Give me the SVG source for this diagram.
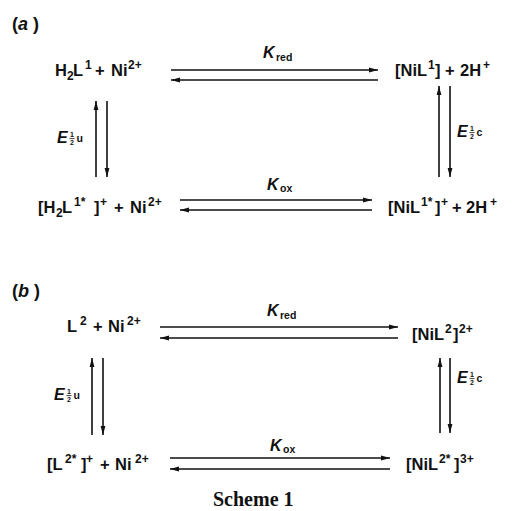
<svg xmlns="http://www.w3.org/2000/svg" width="514" height="511" viewBox="0 0 514 511">
<style>
.f{font-family:"Liberation Sans",Arial,sans-serif;font-size:16.5px;font-weight:bold;fill:#111}
.s{font-size:12px}
.h{font-family:"Liberation Sans",Arial,sans-serif;font-size:18px;font-weight:bold;fill:#111}
.k{font-family:"Liberation Sans",Arial,sans-serif;font-size:16px;font-weight:bold;font-style:italic;fill:#111}
.ks{font-family:"Liberation Sans",Arial,sans-serif;font-size:10.5px;font-weight:bold;fill:#111}
.fr{font-family:"Liberation Sans",Arial,sans-serif;font-size:7px;font-weight:bold;fill:#111}
.ln{stroke:#111;stroke-width:1.6;fill:none}
.t{font-family:"Liberation Serif","Times New Roman",serif;font-size:20px;font-weight:bold;fill:#111}
</style>
<defs>
<marker id="ah" markerUnits="userSpaceOnUse" markerWidth="10" markerHeight="8" refX="9" refY="3" orient="auto">
<path d="M0,0.6 L9,3 L0,5.4 z" fill="#111"/>
</marker>
</defs>

<text class="h" x="12" y="30">(<tspan font-style="italic">a</tspan> )</text>
<text class="h" x="12" y="297">(<tspan font-style="italic">b</tspan> )</text>

<g id="a-tl"><text class="f"><tspan x="55" y="76">H</tspan><tspan class="s" x="67" y="80">2</tspan><tspan x="73" y="76">L</tspan><tspan class="s" x="85" y="69">1</tspan><tspan x="95" y="76">+</tspan><tspan x="111" y="76">Ni</tspan><tspan class="s" x="128" y="69">2+</tspan></text></g>
<g id="a-tr"><text class="f"><tspan x="395" y="76">[NiL</tspan><tspan class="s" x="428" y="69">1</tspan><tspan x="435" y="76">]</tspan><tspan x="445" y="76">+</tspan><tspan x="460" y="76">2H</tspan><tspan class="s" x="483" y="69">+</tspan></text></g>
<g id="a-bl"><text class="f"><tspan x="38" y="213">[H</tspan><tspan class="s" x="56" y="217">2</tspan><tspan x="62" y="213">L</tspan><tspan class="s" x="74" y="206">1*</tspan><tspan x="94" y="213">]</tspan><tspan class="s" x="100" y="206">+</tspan><tspan x="114" y="213">+</tspan><tspan x="130" y="213">Ni</tspan><tspan class="s" x="148" y="206">2+</tspan></text></g>
<g id="a-br"><text class="f"><tspan x="388" y="213">[NiL</tspan><tspan class="s" x="421" y="206">1*</tspan><tspan x="435" y="213">]</tspan><tspan class="s" x="441" y="206">+</tspan><tspan x="452" y="213">+</tspan><tspan x="466" y="213">2H</tspan><tspan class="s" x="490" y="206">+</tspan></text></g>

<g id="b-tl"><text class="f"><tspan x="67" y="332">L</tspan><tspan class="s" x="80" y="325">2</tspan><tspan x="93" y="332">+</tspan><tspan x="108" y="332">Ni</tspan><tspan class="s" x="127" y="325">2+</tspan></text></g>
<g id="b-tr"><text class="f"><tspan x="412" y="340">[NiL</tspan><tspan class="s" x="445" y="333">2</tspan><tspan x="453" y="340">]</tspan><tspan class="s" x="459" y="333">2+</tspan></text></g>
<g id="b-bl"><text class="f"><tspan x="47" y="470">[L</tspan><tspan class="s" x="65" y="463">2*</tspan><tspan x="81" y="470">]</tspan><tspan class="s" x="86" y="463">+</tspan><tspan x="100" y="470">+</tspan><tspan x="115" y="470">Ni</tspan><tspan class="s" x="135" y="463">2+</tspan></text></g>
<g id="b-br"><text class="f"><tspan x="406" y="470">[NiL</tspan><tspan class="s" x="439" y="463">2*</tspan><tspan x="454" y="470">]</tspan><tspan class="s" x="460" y="463">3+</tspan></text></g>

<g id="connectors">
<line class="ln" x1="171" y1="70" x2="378" y2="70" marker-end="url(#ah)"/>
<line class="ln" x1="378" y1="80" x2="171" y2="80" marker-end="url(#ah)"/>
<line class="ln" x1="180" y1="200" x2="372" y2="200" marker-end="url(#ah)"/>
<line class="ln" x1="372" y1="210" x2="180" y2="210" marker-end="url(#ah)"/>
<line class="ln" x1="96" y1="177" x2="96" y2="101" marker-end="url(#ah)"/>
<line class="ln" x1="107" y1="101" x2="107" y2="177" marker-end="url(#ah)"/>
<line class="ln" x1="439" y1="177" x2="439" y2="86" marker-end="url(#ah)"/>
<line class="ln" x1="450" y1="86" x2="450" y2="177" marker-end="url(#ah)"/>

<line class="ln" x1="160" y1="327" x2="398" y2="327" marker-end="url(#ah)"/>
<line class="ln" x1="398" y1="338" x2="160" y2="338" marker-end="url(#ah)"/>
<line class="ln" x1="170" y1="458" x2="390" y2="458" marker-end="url(#ah)"/>
<line class="ln" x1="390" y1="469" x2="170" y2="469" marker-end="url(#ah)"/>
<line class="ln" x1="92" y1="435" x2="92" y2="358" marker-end="url(#ah)"/>
<line class="ln" x1="103" y1="358" x2="103" y2="435" marker-end="url(#ah)"/>
<line class="ln" x1="440" y1="433" x2="440" y2="358" marker-end="url(#ah)"/>
<line class="ln" x1="450" y1="358" x2="450" y2="433" marker-end="url(#ah)"/>
</g>

<g id="labels">
<text class="k" x="263" y="58">K</text><text class="ks" x="276" y="61">red</text>
<text class="k" x="267" y="190">K</text><text class="ks" x="280" y="192">ox</text>
<text class="k" x="267" y="316">K</text><text class="ks" x="280" y="319">red</text>
<text class="k" x="270" y="451">K</text><text class="ks" x="283" y="453">ox</text>

<text class="k" x="57" y="143">E</text><text class="fr" x="70" y="137">1</text><line x1="69.5" y1="138.6" x2="74.5" y2="138.6" stroke="#111" stroke-width="0.8"/><text class="fr" x="70" y="145">2</text><text class="ks" x="76.5" y="142">u</text>
<text class="k" x="457" y="137">E</text><text class="fr" x="470" y="131">1</text><line x1="469.5" y1="132.6" x2="474.5" y2="132.6" stroke="#111" stroke-width="0.8"/><text class="fr" x="470" y="139">2</text><text class="ks" x="476.5" y="136">c</text>
<text class="k" x="54" y="400">E</text><text class="fr" x="67" y="394">1</text><line x1="66.5" y1="395.6" x2="71.5" y2="395.6" stroke="#111" stroke-width="0.8"/><text class="fr" x="67" y="402">2</text><text class="ks" x="73.5" y="399">u</text>
<text class="k" x="457" y="383">E</text><text class="fr" x="470" y="377">1</text><line x1="469.5" y1="378.6" x2="474.5" y2="378.6" stroke="#111" stroke-width="0.8"/><text class="fr" x="470" y="385">2</text><text class="ks" x="476.5" y="382">c</text>
</g>

<text class="t" x="213" y="506">Scheme 1</text>
</svg>
